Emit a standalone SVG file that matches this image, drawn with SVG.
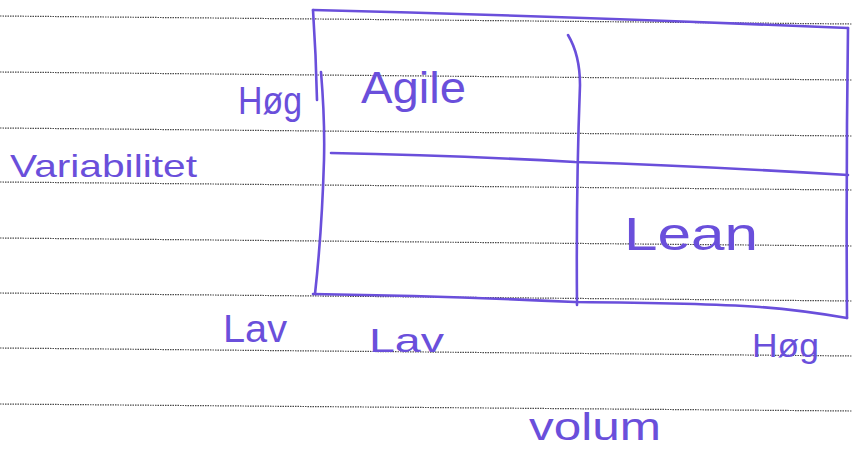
<svg xmlns="http://www.w3.org/2000/svg" width="852" height="452" viewBox="0 0 852 452">
<style>
.rule{stroke:#4a4a4a;stroke-width:1.2;stroke-dasharray:1.5 1;fill:none}
.pen{stroke:#6a4fdb;stroke-width:2.6;fill:none;stroke-linecap:round;stroke-linejoin:round}
.hw{fill:#6a4fdb;font-family:"Liberation Sans","DejaVu Sans",sans-serif}
</style>
<rect width="852" height="452" fill="#ffffff"/>
<g id="paper-lines">
<line class="rule" x1="0" y1="16" x2="852" y2="24"/>
<line class="rule" x1="0" y1="72" x2="852" y2="80"/>
<line class="rule" x1="0" y1="128" x2="852" y2="136"/>
<line class="rule" x1="0" y1="182" x2="852" y2="190"/>
<line class="rule" x1="0" y1="238" x2="852" y2="246"/>
<line class="rule" x1="0" y1="293" x2="852" y2="301"/>
<line class="rule" x1="0" y1="348" x2="852" y2="356"/>
<line class="rule" x1="0" y1="404" x2="852" y2="411"/>
</g>
<g id="matrix">
<path class="pen" d="M313 10 Q560 16 848 28"/>
<path class="pen" d="M848 28 Q846 170 847 318"/>
<path class="pen" d="M313 294 Q450 296 575 302 Q700 303 760 307 Q800 310 847 318"/>
<path class="pen" d="M313 10 Q316 55 317 100"/>
<path class="pen" d="M321 72 Q325 120 324 160 Q322 230 315 294"/>
<path class="pen" d="M331 153 Q450 155 575 162 Q700 166 848 175"/>
<path class="pen" d="M568 35 Q580 55 580 85 Q576 190 577 305"/>
</g>
<g id="agile"><text class="hw" x="361" y="103" font-size="44" textLength="105" lengthAdjust="spacingAndGlyphs">Agile</text></g>
<g id="lean"><text class="hw" x="624" y="250" font-size="46" textLength="134" lengthAdjust="spacingAndGlyphs">Lean</text></g>
<g id="y-axis">
<text class="hw" x="238" y="114" font-size="38" textLength="64" lengthAdjust="spacingAndGlyphs">Høg</text>
<text class="hw" x="10" y="177" font-size="32" textLength="187" lengthAdjust="spacingAndGlyphs">Variabilitet</text>
<text class="hw" x="223" y="342" font-size="38" textLength="64" lengthAdjust="spacingAndGlyphs">Lav</text>
</g>
<g id="x-axis">
<text class="hw" x="369" y="352" font-size="34" textLength="75" lengthAdjust="spacingAndGlyphs">Lav</text>
<text class="hw" x="752" y="357" font-size="34" textLength="67" lengthAdjust="spacingAndGlyphs">Høg</text>
<text class="hw" x="529" y="440" font-size="38" textLength="132" lengthAdjust="spacingAndGlyphs">volum</text>
</g>
</svg>
